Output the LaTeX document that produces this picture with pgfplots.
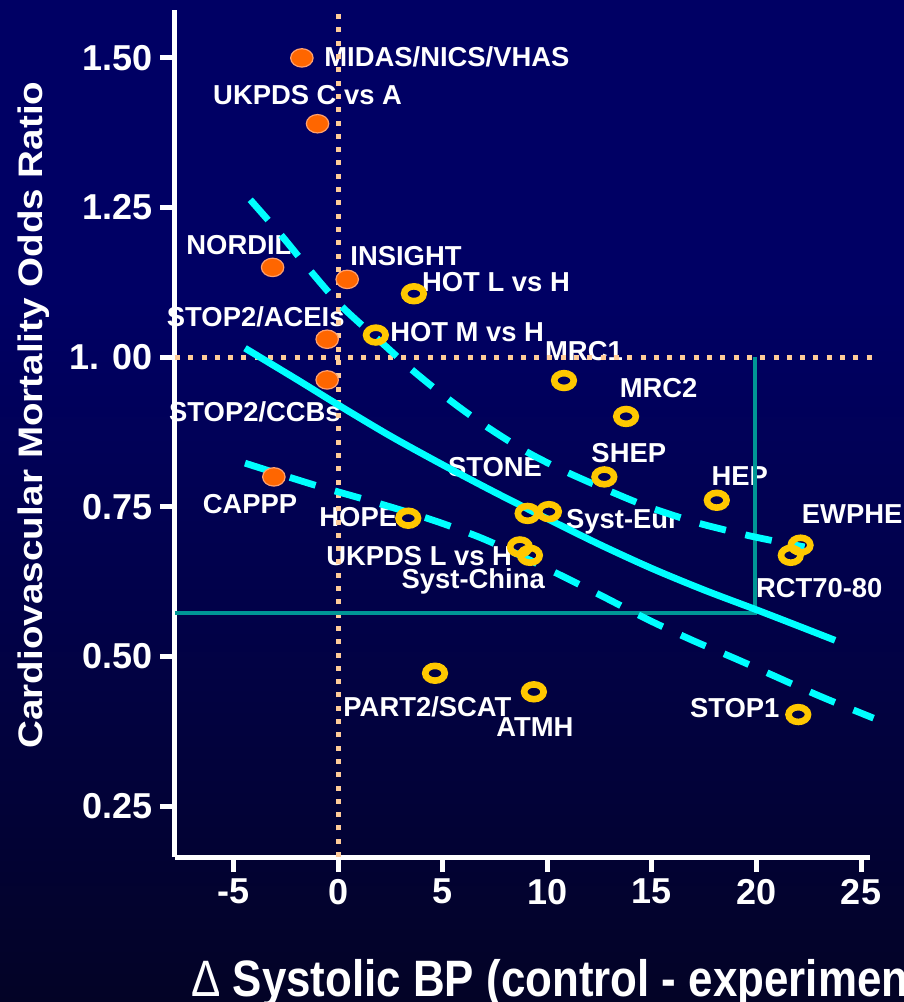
\documentclass[border=0pt]{standalone}
\usepackage{fontspec}
\setmainfont{Liberation Sans}
\newfontfamily\xlabfont[FakeStretch=0.857]{Liberation Sans}
\newfontfamily\ylabfont[FakeStretch=1.135]{Liberation Sans}
\usepackage{pgfplots}
\pgfplotsset{compat=1.18}

\definecolor{bgtop}{RGB}{0,0,100}
\definecolor{bgbot}{RGB}{3,3,38}
\definecolor{peach}{RGB}{255,204,153}
\definecolor{tealc}{RGB}{0,150,150}
\definecolor{cyanc}{RGB}{0,255,255}
\definecolor{ring}{RGB}{255,200,0}
\definecolor{orfill}{RGB}{255,102,0}
\definecolor{oredge}{RGB}{255,160,110}

\tikzset{lbl/.style={anchor=base, inner sep=0pt, text=white,
  font=\bfseries\fontsize{13.7}{15}\selectfont}}

\begin{document}
\begin{tikzpicture}
% slide background
\fill[bgtop] (0,0) rectangle (452pt,-150pt);
\shade[top color=bgtop, bottom color=bgbot] (0,-149.5pt) rectangle (452pt,-501pt);
\begin{scope}
\clip (0,0) rectangle (452pt,-501pt);
\begin{axis}[
  scale only axis, width=347.5pt, height=423.5pt,
  at={(87.5pt,-428.5pt)}, anchor=south west,
  xmin=-7.82, xmax=25.43, ymin=0.165, ymax=1.58,
  axis x line*=bottom, axis y line*=left,
  axis line style={white, line width=2.5pt},
  tick align=outside, major tick length=7.5pt,
  tick style={white, line width=2.5pt},
  xtick={-5,0,5,10,15,20,25},
  xticklabels={-5,0,5,10,15,20,25},
  ytick={0.25,0.5,0.75,1,1.25,1.5},
  yticklabels={0.25,0.50,0.75,1. 00,1.25,1.50},
  ticklabel style={font=\bfseries\fontsize{18}{20}\selectfont, text=white},
  xlabel={{\mdseries Δ} Systolic BP (control - experimental)},
  ylabel={Cardiovascular Mortality Odds Ratio},
  every axis x label/.style={at={(axis description cs:0.023,-0.1641)}, anchor=base west,
    inner sep=0pt, text=white, font=\xlabfont\bfseries\fontsize{25.6}{28}\selectfont},
  every axis y label/.style={at={(axis description cs:-0.19,0.5218)}, rotate=90, anchor=base,
    inner sep=0pt, text=white, font=\ylabfont\bfseries\fontsize{17}{20}\selectfont},
  clip=false,
]
% trial names
\node[lbl] at (axis cs:5.19,1.4855)   {MIDAS/NICS/VHAS};
\node[lbl] at (axis cs:-1.474,1.4215) {UKPDS C vs A};
\node[lbl] at (axis cs:-4.761,1.1708) {NORDIL};
\node[lbl] at (axis cs:3.23,1.154)    {INSIGHT};
\node[lbl] at (axis cs:7.536,1.1095)  {HOT L vs H};
\node[lbl] at (axis cs:-3.957,1.051)  {STOP2/ACEIs};
\node[lbl] at (axis cs:6.158,1.026)   {HOT M vs H};
\node[lbl] at (axis cs:11.746,0.9953) {MRC1};
\node[lbl] at (axis cs:15.32,0.933)   {MRC2};
\node[lbl] at (axis cs:-3.995,0.892)  {STOP2/CCBs};
\node[lbl] at (axis cs:13.89,0.8244)  {SHEP};
\node[lbl] at (axis cs:7.488,0.8003)  {STONE};
\node[lbl] at (axis cs:19.196,0.7864) {HEP};
\node[lbl] at (axis cs:-4.234,0.7391) {CAPPP};
\node[lbl] at (axis cs:0.947,0.7167)  {HOPE};
\node[lbl] at (axis cs:13.589,0.7146) {Syst-Eur};
\node[lbl] at (axis cs:24.579,0.7224) {EWPHE};
\node[lbl] at (axis cs:3.861,0.6527)  {UKPDS L vs H};
\node[lbl] at (axis cs:6.45,0.6138)   {Syst-China};
\node[lbl] at (axis cs:23.0,0.5988)   {RCT70-80};
\node[lbl] at (axis cs:4.258,0.4004)  {PART2/SCAT};
\node[lbl] at (axis cs:9.402,0.367)   {ATMH};
\node[lbl] at (axis cs:18.957,0.3982) {STOP1};

% reference lines: no BP difference, odds ratio of one
\addplot[peach, line width=2.5pt, dash pattern=on 2.5pt off 4.15pt] coordinates {(0,0.165) (0,1.577)};
\addplot[peach, line width=2.5pt, dash pattern=on 2.5pt off 4.15pt] coordinates {(-7.82,1) (25.57,1)};
% 20 mmHg reading guide
\addplot[tealc, line width=1.8pt] coordinates {(-7.82,0.573) (19.93,0.573) (19.93,1.0)};

% regression line and confidence band
\addplot[cyanc, line width=3.4pt, smooth] coordinates {
  (-4.47,1.015) (-2,0.963) (0,0.92) (2.5,0.868) (5,0.820) (7.5,0.774)
  (10,0.730) (12.5,0.687) (15,0.647) (17.5,0.611) (20,0.578) (22,0.551) (23.76,0.527)};
\addplot[cyanc, line width=3.4pt, smooth, dash pattern=on 13.5pt off 10pt] coordinates {
  (-4.22,1.263) (-2.72,1.203) (-1.36,1.145) (0.15,1.085) (2.14,1.022) (3.58,0.977)
  (5.18,0.932) (7.0,0.886) (9.0,0.842) (10.92,0.808) (13.47,0.769) (15.06,0.747)
  (17.2,0.723) (19.37,0.704) (20.56,0.695) (22.3,0.683)};
\addplot[cyanc, line width=3.4pt, smooth, dash pattern=on 13.5pt off 10pt] coordinates {
  (-4.47,0.823) (-1.2,0.787) (2.0,0.755) (4.5,0.728) (6.69,0.700) (8.5,0.672)
  (10.44,0.639) (12.5,0.603) (14.9,0.560) (17,0.526) (19.21,0.493) (22.88,0.436) (25.6,0.397)};

% trials without a BP difference (filled)
\addplot[only marks, mark=*, mark size=4.6pt,
  mark options={xscale=1.22, fill=orfill, draw=oredge, line width=0.6pt}] coordinates {
  (-1.75,1.50) (-1.0,1.39) (-3.15,1.15) (0.42,1.13) (-0.54,1.03) (-0.54,0.962) (-3.09,0.80)};
% placebo / BP-lowering trials (open)
\addplot[only marks, mark=o, mark size=3.7pt,
  mark options={xscale=1.32, draw=ring, line width=3.3pt}] coordinates {
  (3.61,1.106) (1.79,1.037) (10.79,0.961) (13.76,0.901) (12.72,0.80) (18.1,0.761)
  (22.11,0.686) (21.64,0.669) (9.05,0.739) (10.07,0.742) (3.34,0.731) (8.68,0.683)
  (9.16,0.669) (4.62,0.472) (9.35,0.441) (22.0,0.403)};
\end{axis}
\end{scope}
\pgfresetboundingbox
\useasboundingbox (0,0) rectangle (452pt,-501pt);
\end{tikzpicture}
\end{document}
